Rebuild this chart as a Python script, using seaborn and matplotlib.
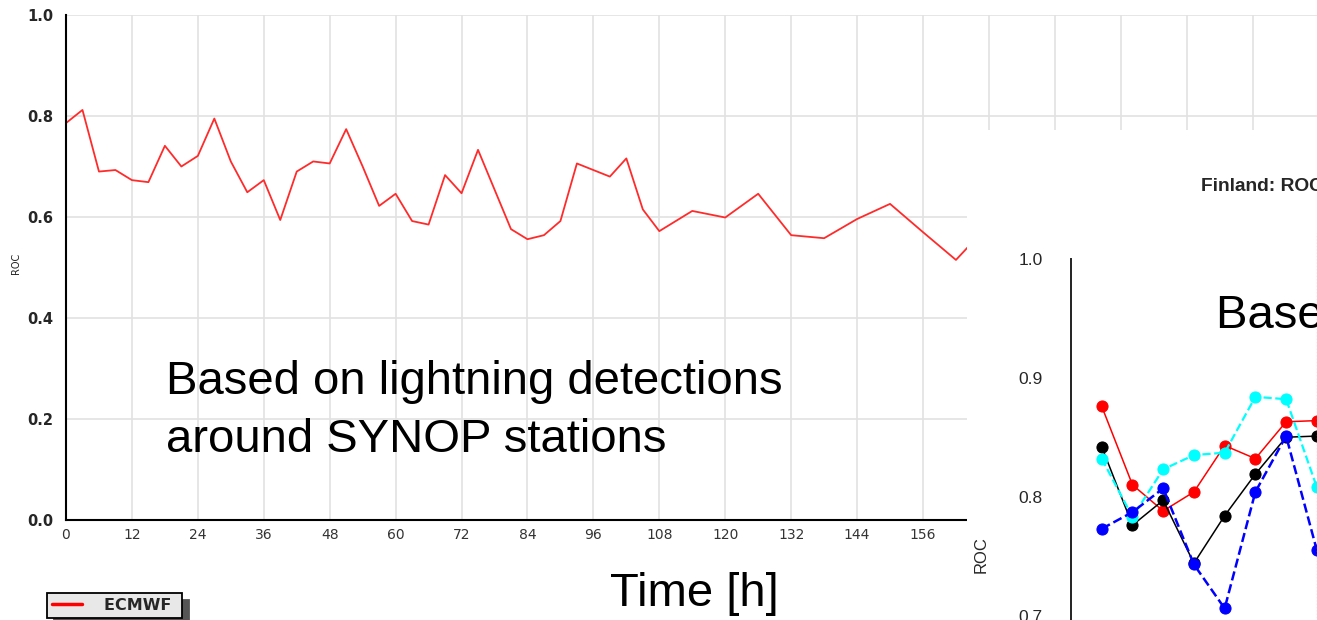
import matplotlib
matplotlib.use("Agg")
import matplotlib.pyplot as plt
from matplotlib.ticker import MultipleLocator
import seaborn as sns
import pandas as pd

# ECMWF ROC by forecast hour (left chart)
hours = [0, 3, 6, 9, 12, 15, 18, 21, 24, 27, 30, 33, 36, 39, 42, 45, 48, 51, 54, 57,
         60, 63, 66, 69, 72, 75, 81, 84, 87, 90, 93, 99, 102, 105, 108,
         114, 120, 126, 132, 138, 144, 150, 156, 162, 168]
roc_ecmwf = [0.786, 0.812, 0.690, 0.693, 0.673, 0.669, 0.741, 0.700, 0.721, 0.795,
             0.710, 0.649, 0.673, 0.594, 0.690, 0.710, 0.706, 0.774, 0.700, 0.622,
             0.646, 0.592, 0.585, 0.683, 0.647, 0.733, 0.576, 0.556, 0.564, 0.592,
             0.706, 0.680, 0.716, 0.615, 0.572,
             0.612, 0.599, 0.646, 0.564, 0.558, 0.596, 0.626, 0.570, 0.515, 0.585]
x_ticks = list(range(0, 241, 12))
y_ticks = [0.0, 0.2, 0.4, 0.6, 0.8, 1.0]

# Finland panel (partly visible on the right)
fin_lead = [1, 2, 3, 4, 5, 6, 7, 8]
fin_red = [0.876, 0.810, 0.788, 0.804, 0.843, 0.832, 0.863, 0.864]
fin_black = [0.842, 0.776, 0.797, 0.744, 0.784, 0.819, 0.850, 0.851]
fin_cyan = [0.832, 0.783, 0.823, 0.835, 0.837, 0.884, 0.882, 0.808]
fin_blue = [0.773, 0.787, 0.807, 0.743, 0.706, 0.804, 0.851, 0.755]
fin_yticks = [0.7, 0.8, 0.9, 1.0]

sns.set_style("white")
plt.rcParams["font.family"] = ["DejaVu Sans"]

W, H = 1317, 620


def fx(px):
    return px / W


def fy(py):
    return 1 - py / H


fig = plt.figure(figsize=(W / 100, H / 100), dpi=100)
fig.patch.set_facecolor("white")

# left chart: axes run past the right edge of the picture
px_per_h = (923 - 66) / 156
ax1 = fig.add_axes([fx(66), fy(520), 240 * px_per_h / W, (520 - 15) / H])
df = pd.DataFrame({"hour": hours, "roc": roc_ecmwf})
sns.lineplot(data=df, x="hour", y="roc", ax=ax1, color="#ff2b2b", lw=1.3,
             label="ECMWF")
ax1.set_xlim(0, 240)
ax1.set_ylim(0, 1.0)
ax1.set_xticks(x_ticks)
# labels past 156 h sit under the Finland panel
ax1.set_xticklabels([str(t) if t <= 156 else "" for t in x_ticks])
ax1.set_yticks(y_ticks)
ax1.xaxis.set_minor_locator(MultipleLocator(1))
ax1.yaxis.set_minor_locator(MultipleLocator(0.1))
ax1.grid(True, which="major", color="#e2e2e2", lw=1.2)
ax1.set_axisbelow(True)
for s in ["top", "right"]:
    ax1.spines[s].set_visible(False)
for s in ["left", "bottom"]:
    ax1.spines[s].set_color("black")
    ax1.spines[s].set_linewidth(1.5)
ax1.tick_params(axis="both", which="major", direction="in", length=6.5, width=1.3,
                color="black")
ax1.tick_params(axis="x", which="minor", direction="in", length=3.5, width=0.8)
ax1.tick_params(axis="y", which="minor", direction="in", length=4.3, width=1.3)
ax1.tick_params(axis="x", labelsize=10, labelcolor="#333333", pad=6)
ax1.tick_params(axis="y", labelsize=10.5, pad=9)
ax1.set_yticklabels([f"{v:.1f}" for v in y_ticks], fontweight="bold")
ax1.set_xlabel("")
ax1.set_ylabel("")

leg = ax1.legend(loc="upper left", bbox_to_anchor=(fx(47), fy(593)),
                 bbox_transform=fig.transFigure, frameon=True, fancybox=False,
                 shadow={"ox": 5, "oy": -5, "color": "#555555", "alpha": 1},
                 edgecolor="black", facecolor="#e8e8e8", framealpha=1,
                 prop={"weight": "bold", "size": 11.5}, handlelength=1.9,
                 handletextpad=1.4, borderpad=0.3, borderaxespad=0)
leg.get_frame().set_linewidth(1.3)
for ln in leg.get_lines():
    ln.set_linewidth(2.5)
    ln.set_color("red")
for t in leg.get_texts():
    t.set_text("ECMWF ")

fig.text(fx(16), fy(263), "ROC", rotation=90, ha="center", va="center",
         fontsize=7, color="#222222")

big = dict(family=["Liberation Sans", "DejaVu Sans"], fontsize=34, color="black",
           va="baseline")
fig.text(fx(166), fy(394), "Based on lightning detections", ha="left", **big)
fig.text(fx(166), fy(452), "around SYNOP stations", ha="left", **big)
fig.text(fx(694), fy(606), "Time [h]", ha="center", **big)

# white panel of the overlapping Finland chart
cover = fig.add_axes([fx(967), 0, 1 - fx(967), fy(130)], zorder=2)
cover.set_facecolor("white")
cover.set_xticks([])
cover.set_yticks([])
for s in cover.spines.values():
    s.set_visible(False)

fin_px = (1316.7 - 1101.6) / 7
ax2 = fig.add_axes([fx(1071), fy(675), 10 * fin_px / W, (675 - 233) / H], zorder=3)
ax2.set_facecolor("none")
fin = pd.DataFrame({"lead": fin_lead, "red": fin_red, "black": fin_black,
                    "cyan": fin_cyan, "blue": fin_blue})
styles = {"red": ("-", 1.1), "black": ("-", 1.1), "cyan": ("--", 1.6),
          "blue": ("--", 1.8)}
for col, (ls, lw) in styles.items():
    sns.lineplot(data=fin, x="lead", y=col, ax=ax2, color=col, linestyle=ls, lw=lw,
                 marker="o", markersize=8, markeredgecolor=col, legend=False)
ax2.axvline(8, color="#aaaaaa", ls=":", lw=0.9)
ax2.set_xlim(0, 10)
ax2.set_ylim(0.65, 1.0218)
ax2.set_yticks(fin_yticks)
ax2.set_yticklabels([f"{v:.1f}" for v in fin_yticks],
                    family=["Liberation Sans", "DejaVu Sans"], fontsize=12.5)
ax2.set_xticks([])
ax2.set_xlabel("")
ax2.set_ylabel("")
for s in ["top", "right", "bottom"]:
    ax2.spines[s].set_visible(False)
ax2.spines["left"].set_bounds(0.6, 1.0)
ax2.spines["left"].set_color("#222222")
ax2.spines["left"].set_linewidth(1.4)
ax2.tick_params(axis="y", direction="out", length=10, width=1.2, pad=10.5,
                color="#222222")

fig.text(fx(1201), fy(190.7), "Finland: ROC area", ha="left", va="baseline",
         family=["Liberation Sans", "DejaVu Sans"], fontsize=13.8, fontweight="bold")
fig.text(fx(981), fy(555), "ROC", rotation=90, ha="center", va="center",
         family=["Liberation Sans", "DejaVu Sans"], fontsize=12)
fig.text(fx(1216), fy(328), "Based on radar data", ha="left", zorder=4, **big)

fig.savefig("out.png", dpi=100, facecolor="white")
